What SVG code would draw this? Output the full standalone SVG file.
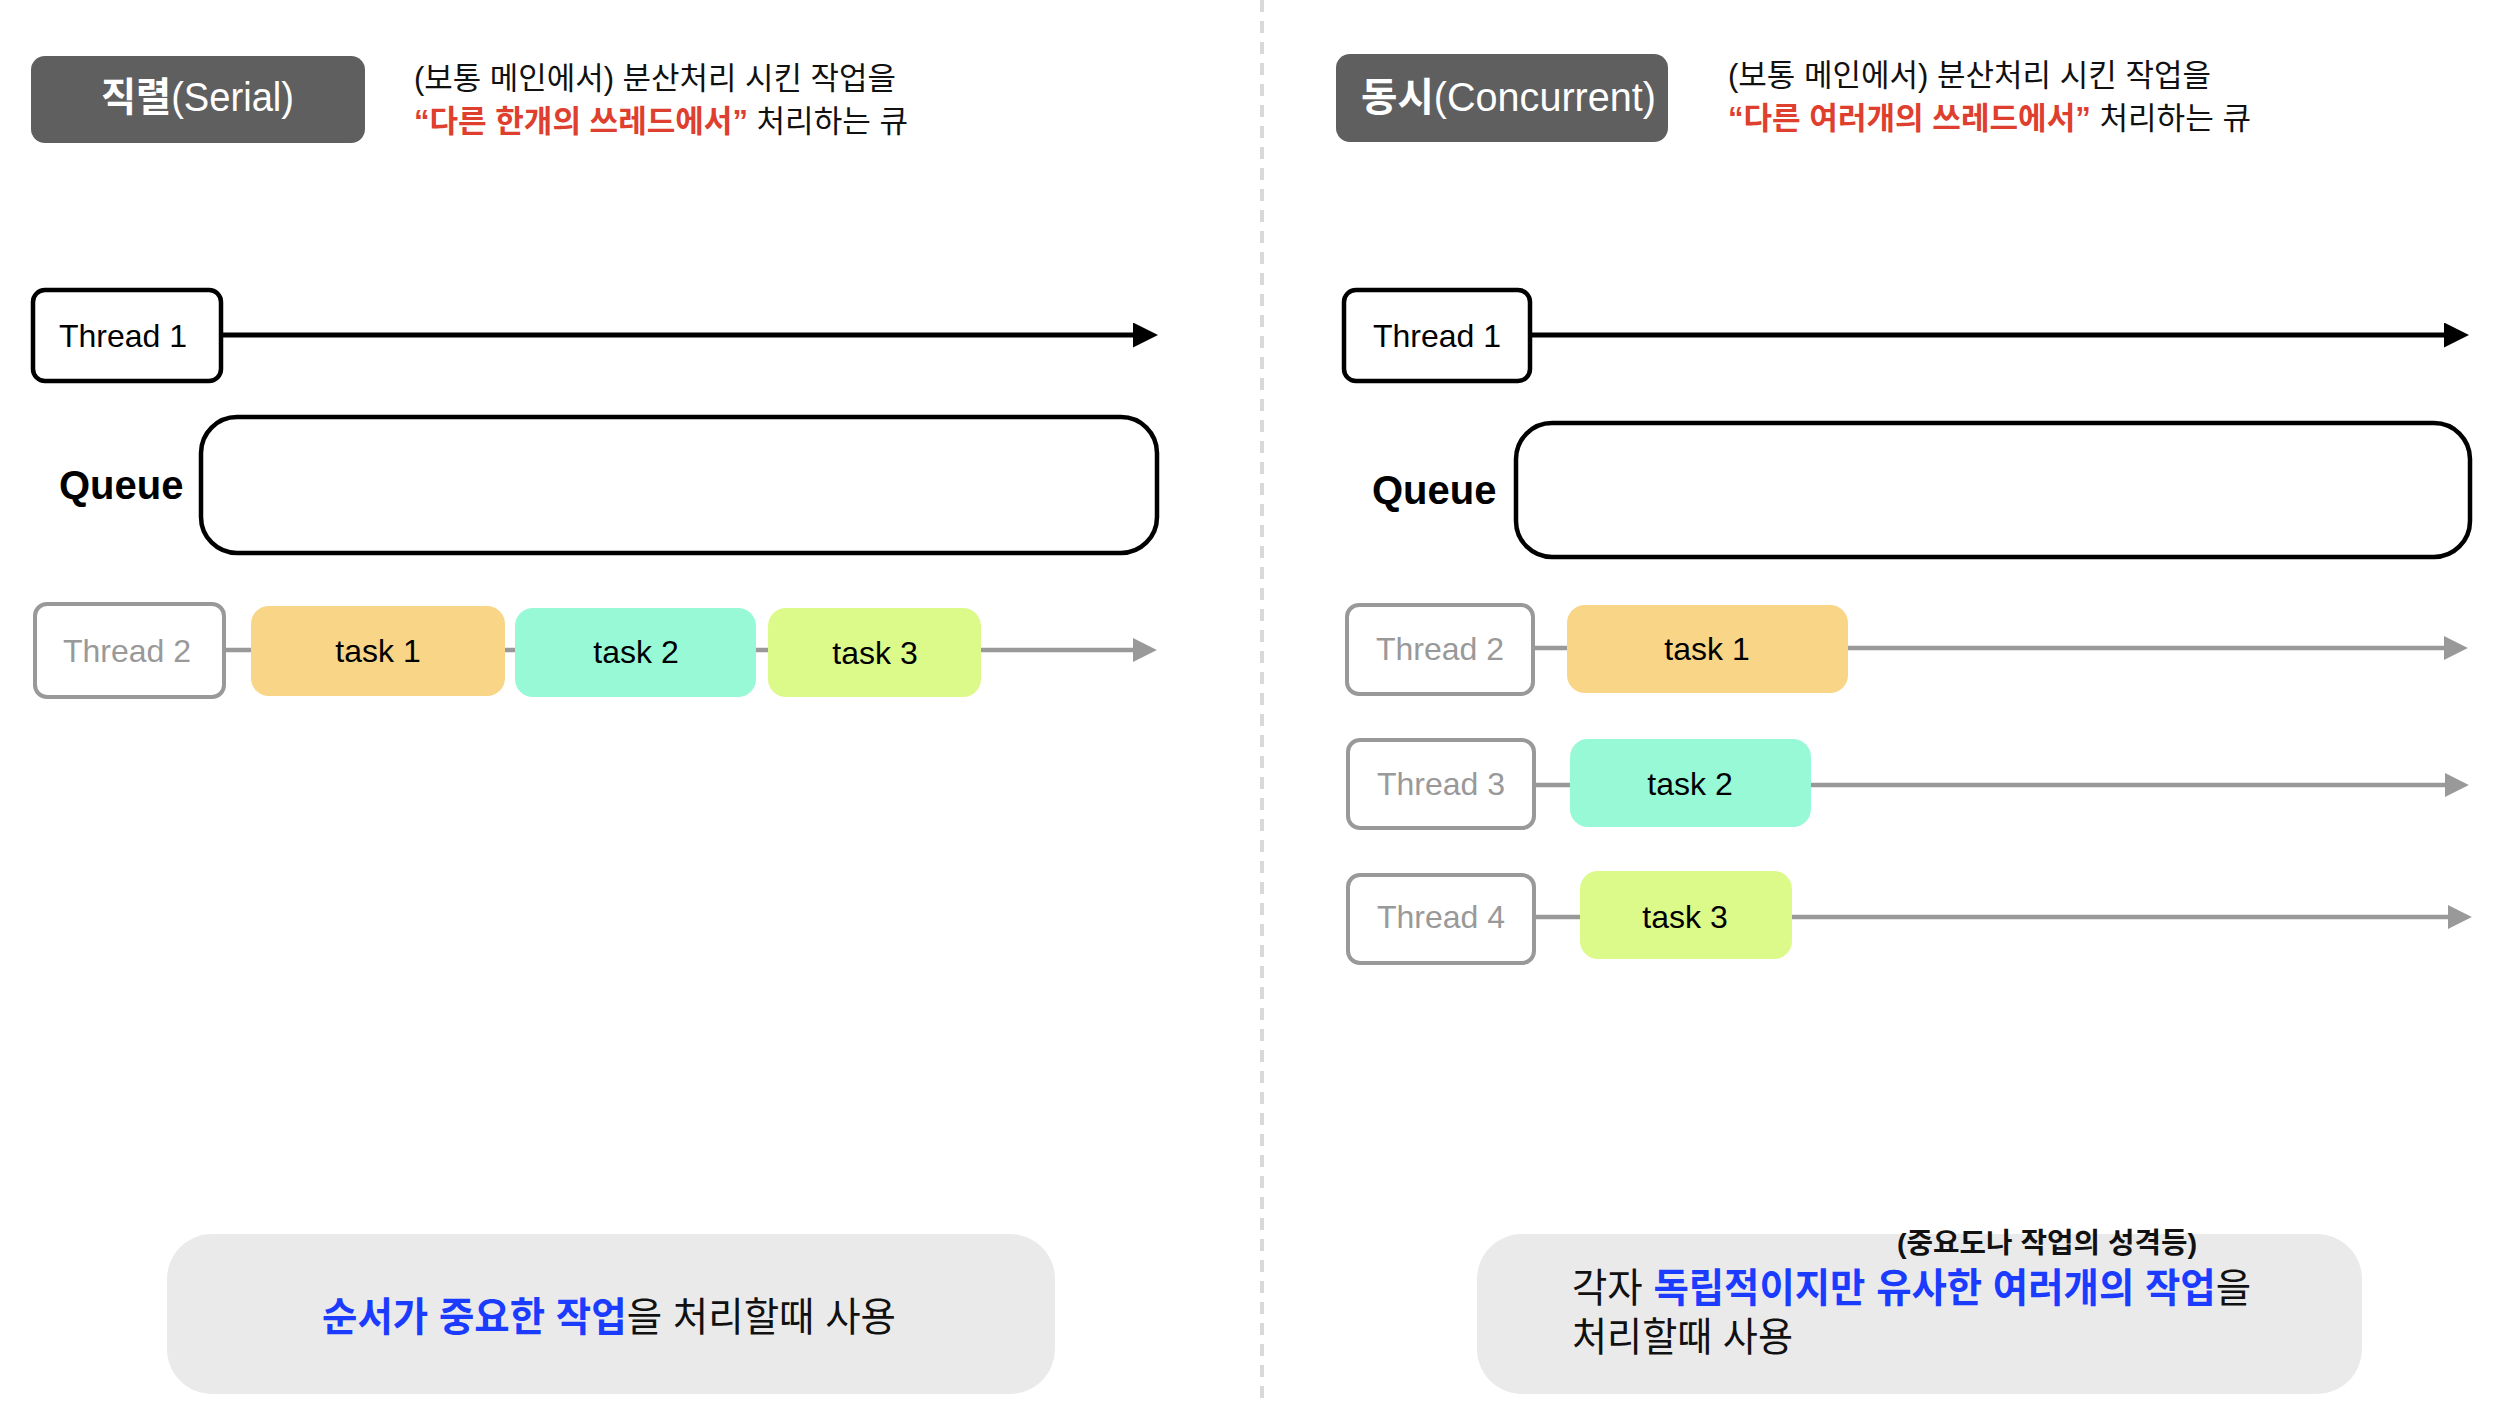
<svg xmlns="http://www.w3.org/2000/svg" width="2510" height="1402" viewBox="0 0 2510 1402">
<style>
  text { font-family: "Liberation Sans", "Noto Sans CJK KR", sans-serif; }
  .hdr { fill: #5f5f5f; }
  .hdrtxt { fill: #ffffff; font-size: 40px; }
  .desc { fill: #111111; font-size: 31px; }
  .red { fill: #de3f2e; font-weight: bold; }
  .blue { fill: #1b3cff; font-weight: bold; }
  .b { font-weight: bold; }
  .th1 { fill: #ffffff; stroke: #000000; stroke-width: 4.5; }
  .th2 { fill: #ffffff; stroke: #999999; stroke-width: 4; }
  .thtxt1 { fill: #000000; font-size: 32px; text-anchor: middle; }
  .thtxt2 { fill: #999999; font-size: 32px; text-anchor: middle; }
  .queue { fill: #ffffff; stroke: #000000; stroke-width: 4.5; }
  .qtxt { fill: #000000; font-size: 40px; font-weight: bold; }
  .t1 { fill: #f8d587; }
  .t2 { fill: #98f9d7; }
  .t3 { fill: #dcfa8a; }
  .tasktxt { fill: #000000; font-size: 32px; text-anchor: middle; }
  .lineblk { stroke: #000000; stroke-width: 5; fill: none; }
  .linegry { stroke: #999999; stroke-width: 4.5; fill: none; }
  .note { fill: #eaeaea; }
  .notetxt { fill: #111111; font-size: 40px; }
</style>
<defs>
  <marker id="arrBlk" viewBox="0 0 10 10" refX="0" refY="5" markerWidth="5.2" markerHeight="5" markerUnits="strokeWidth" orient="auto">
    <path d="M0,0 L10,5 L0,10 z" fill="#000000"/>
  </marker>
  <marker id="arrGry" viewBox="0 0 10 10" refX="0" refY="5" markerWidth="5.6" markerHeight="5.3" markerUnits="strokeWidth" orient="auto">
    <path d="M0,0 L10,5 L0,10 z" fill="#999999"/>
  </marker>
</defs>

<rect x="0" y="0" width="2510" height="1402" fill="#ffffff"/>

<!-- divider -->
<g id="divider">
  <line x1="1262" y1="0" x2="1262" y2="1402" stroke="#d9d9d9" stroke-width="4" stroke-dasharray="12 9"/>
</g>

<!-- connectors -->
<g id="connectors">
  <line class="lineblk" x1="221" y1="335" x2="1133" y2="335" marker-end="url(#arrBlk)"/>
  <line class="linegry" x1="224" y1="650" x2="1133" y2="650" marker-end="url(#arrGry)"/>
  <line class="lineblk" x1="1530" y1="335" x2="2444" y2="335" marker-end="url(#arrBlk)"/>
  <line class="linegry" x1="1533" y1="648" x2="2444" y2="648" marker-end="url(#arrGry)"/>
  <line class="linegry" x1="1534" y1="785" x2="2445" y2="785" marker-end="url(#arrGry)"/>
  <line class="linegry" x1="1534" y1="917" x2="2448" y2="917" marker-end="url(#arrGry)"/>
</g>

<!-- LEFT: Serial -->
<g id="serial-header">
  <rect class="hdr" x="31" y="56" width="334" height="87" rx="14"/>
  <text class="hdrtxt" x="101" y="111" textLength="193" lengthAdjust="spacingAndGlyphs"><tspan class="b">직렬</tspan>(Serial)</text>
</g>
<g id="serial-desc">
  <text class="desc" x="414" y="89" textLength="482" lengthAdjust="spacingAndGlyphs">(보통 메인에서) 분산처리 시킨 작업을</text>
  <text class="desc" x="414" y="132" textLength="494" lengthAdjust="spacingAndGlyphs"><tspan class="red">“다른 한개의 쓰레드에서”</tspan> 처리하는 큐</text>
</g>
<g id="serial-thread1">
  <rect class="th1" x="33" y="290" width="188" height="91" rx="12"/>
  <text class="thtxt1" x="123" y="347">Thread 1</text>
</g>
<g id="serial-queue">
  <text class="qtxt" x="59" y="499">Queue</text>
  <rect class="queue" x="201" y="417" width="956" height="136" rx="36"/>
</g>
<g id="serial-thread2">
  <rect class="th2" x="35" y="604" width="189" height="93" rx="12"/>
  <text class="thtxt2" x="127" y="662">Thread 2</text>
</g>
<g id="serial-task1">
  <rect class="t1" x="251" y="606" width="254" height="90" rx="18"/>
  <text class="tasktxt" x="378" y="662">task 1</text>
</g>
<g id="serial-task2">
  <rect class="t2" x="515" y="608" width="241" height="89" rx="18"/>
  <text class="tasktxt" x="636" y="663">task 2</text>
</g>
<g id="serial-task3">
  <rect class="t3" x="768" y="608" width="213" height="89" rx="18"/>
  <text class="tasktxt" x="875" y="664">task 3</text>
</g>
<g id="serial-note">
  <rect class="note" x="167" y="1234" width="888" height="160" rx="45"/>
  <text class="notetxt" x="322" y="1331" textLength="574" lengthAdjust="spacingAndGlyphs"><tspan class="blue">순서가 중요한 작업</tspan>을 처리할때 사용</text>
</g>

<!-- RIGHT: Concurrent -->
<g id="concurrent-header">
  <rect class="hdr" x="1336" y="54" width="332" height="88" rx="14"/>
  <text class="hdrtxt" x="1361" y="111" textLength="295" lengthAdjust="spacingAndGlyphs"><tspan class="b">동시</tspan>(Concurrent)</text>
</g>
<g id="concurrent-desc">
  <text class="desc" x="1728" y="86" textLength="483" lengthAdjust="spacingAndGlyphs">(보통 메인에서) 분산처리 시킨 작업을</text>
  <text class="desc" x="1728" y="129" textLength="523" lengthAdjust="spacingAndGlyphs"><tspan class="red">“다른 여러개의 쓰레드에서”</tspan> 처리하는 큐</text>
</g>
<g id="concurrent-thread1">
  <rect class="th1" x="1344" y="290" width="186" height="91" rx="12"/>
  <text class="thtxt1" x="1437" y="347">Thread 1</text>
</g>
<g id="concurrent-queue">
  <text class="qtxt" x="1372" y="504">Queue</text>
  <rect class="queue" x="1516" y="423" width="954" height="134" rx="36"/>
</g>
<g id="concurrent-thread2">
  <rect class="th2" x="1347" y="605" width="186" height="89" rx="12"/>
  <text class="thtxt2" x="1440" y="660">Thread 2</text>
</g>
<g id="concurrent-task1">
  <rect class="t1" x="1567" y="605" width="281" height="88" rx="18"/>
  <text class="tasktxt" x="1707" y="660">task 1</text>
</g>
<g id="concurrent-thread3">
  <rect class="th2" x="1348" y="740" width="186" height="88" rx="12"/>
  <text class="thtxt2" x="1441" y="795">Thread 3</text>
</g>
<g id="concurrent-task2">
  <rect class="t2" x="1570" y="739" width="241" height="88" rx="18"/>
  <text class="tasktxt" x="1690" y="795">task 2</text>
</g>
<g id="concurrent-thread4">
  <rect class="th2" x="1348" y="875" width="186" height="88" rx="12"/>
  <text class="thtxt2" x="1441" y="928">Thread 4</text>
</g>
<g id="concurrent-task3">
  <rect class="t3" x="1580" y="871" width="212" height="88" rx="18"/>
  <text class="tasktxt" x="1685" y="928">task 3</text>
</g>
<g id="concurrent-note">
  <rect class="note" x="1477" y="1234" width="885" height="160" rx="45"/>
  <text class="b" x="1897" y="1253" font-size="28" fill="#111111" textLength="300" lengthAdjust="spacingAndGlyphs">(중요도나 작업의 성격등)</text>
  <text class="notetxt"><tspan x="1572" y="1302" textLength="679" lengthAdjust="spacingAndGlyphs">각자 <tspan class="blue">독립적이지만 유사한 여러개의 작업</tspan>을</tspan><tspan x="1572" y="1351" textLength="221" lengthAdjust="spacingAndGlyphs">처리할때 사용</tspan></text>
</g>
</svg>
